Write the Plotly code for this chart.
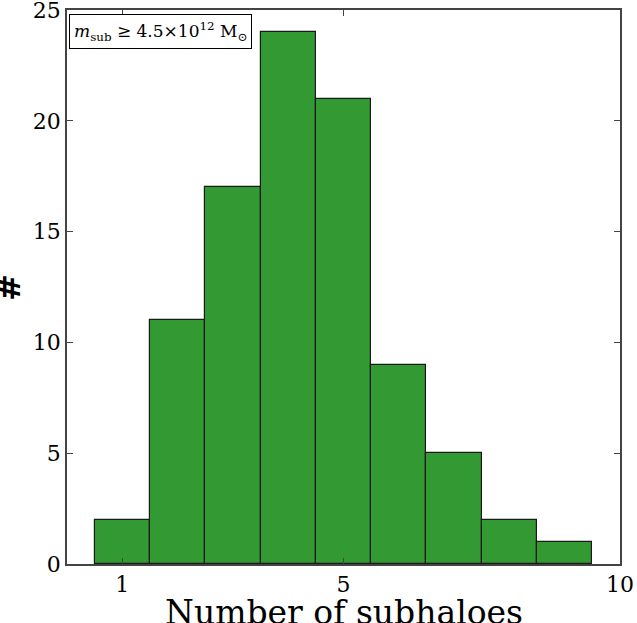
import plotly.graph_objects as go

n_subhaloes = [1, 2, 3, 4, 5, 6, 7, 8, 9]
counts = [2, 11, 17, 24, 21, 9, 5, 2, 1]
x_ticks = [1, 5, 10]
y_ticks = [0, 5, 10, 15, 20, 25]

fig = go.Figure()
fig.add_trace(go.Bar(
    x=n_subhaloes, y=counts, width=1,
    marker=dict(color="#339933", line=dict(color="#1a1a1a", width=1.2)),
))

axis_common = dict(
    showline=True, linecolor="#444", linewidth=1.5, mirror="ticks",
    ticks="inside", ticklen=6, tickcolor="#444", showgrid=False, zeroline=False,
    automargin=False, ticklabeloverflow="allow",
    tickfont=dict(family="DejaVu Serif", size=22, color="black"),
)
fig.update_xaxes(range=[0, 10], tickvals=x_ticks, **axis_common)
fig.update_yaxes(range=[0, 25], tickvals=y_ticks, **axis_common)

fig.add_annotation(
    xref="paper", yref="paper", x=0.5, y=0, xanchor="center", yanchor="top",
    yshift=-27, text="Number of subhaloes", showarrow=False,
    font=dict(family="DejaVu Serif", size=33, color="black"),
)
fig.add_annotation(
    xref="paper", yref="paper", x=0, y=0.5, xanchor="right", yanchor="middle",
    xshift=-37, yshift=-1, text="<b>#</b>", showarrow=False, textangle=-90,
    font=dict(family="DejaVu Sans", size=32, color="black"),
)
fig.add_annotation(
    xref="paper", yref="paper", x=0.004, y=0.992, xanchor="left", yanchor="top",
    text="<i>m</i><sub>sub</sub> ≥ 4.5×10<sup>12</sup> M<sub>⊙</sub>",
    showarrow=False, bgcolor="white", bordercolor="black", borderwidth=1, borderpad=4,
    font=dict(family="DejaVu Serif", size=17, color="black"),
)

fig.update_layout(
    width=637, height=623, margin=dict(l=67, r=17, t=10, b=59),
    plot_bgcolor="white", paper_bgcolor="white", showlegend=False, bargap=0,
)
fig.write_html("out.html", config={"displayModeBar": False},
               post_script="document.body.style.margin='0';")
